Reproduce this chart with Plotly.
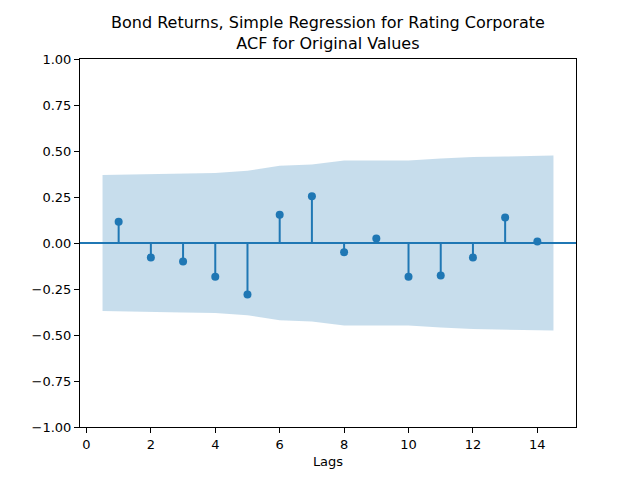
import plotly.graph_objects as go

lags = [1, 2, 3, 4, 5, 6, 7, 8, 9, 10, 11, 12, 13, 14]
acf_vals = [0.116, -0.079, -0.101, -0.183, -0.280, 0.154, 0.254,
            -0.050, 0.024, -0.183, -0.177, -0.079, 0.138, 0.008]
band_x = [0.5, 2, 3, 4, 5, 6, 7, 8, 9, 10, 11, 12, 13, 14.5]
band_upper = [0.370, 0.375, 0.378, 0.381, 0.393, 0.420, 0.427,
              0.448, 0.448, 0.449, 0.459, 0.468, 0.470, 0.475]
x_ticks = [0, 2, 4, 6, 8, 10, 12, 14]
y_ticks = [-1.0, -0.75, -0.5, -0.25, 0.0, 0.25, 0.5, 0.75, 1.0]

C0 = "#1f77b4"
FONT = "DejaVu Sans"

fig = go.Figure()

# confidence band (symmetric)
fig.add_trace(go.Scatter(
    x=band_x + band_x[::-1],
    y=band_upper + [-v for v in band_upper[::-1]],
    fill="toself", fillcolor="rgba(31,119,180,0.25)",
    line=dict(width=0), mode="lines", hoverinfo="skip", showlegend=False))

# stems
sx, sy = [], []
for l, v in zip(lags, acf_vals):
    sx += [l, l, None]
    sy += [0, v, None]
fig.add_trace(go.Scatter(x=sx, y=sy, mode="lines",
                         line=dict(color=C0, width=2), showlegend=False))

# zero line
fig.add_shape(type="line", xref="paper", x0=0, x1=1, yref="y", y0=0, y1=0,
              line=dict(color=C0, width=2))

# markers
fig.add_trace(go.Scatter(x=lags, y=acf_vals, mode="markers",
                         marker=dict(color=C0, size=8, line=dict(width=0)),
                         showlegend=False))

fig.add_annotation(
    text="Bond Returns, Simple Regression for Rating Corporate<br>ACF for Original Values",
    xref="paper", yref="paper", x=0.5, y=1, xanchor="center", yanchor="bottom",
    yshift=4, showarrow=False, font=dict(family=FONT, size=16, color="black"))

axis_common = dict(showgrid=False, zeroline=False, showline=True, linecolor="black",
                   linewidth=1, mirror=True, ticks="outside", ticklen=5,
                   tickcolor="black", tickwidth=1,
                   tickfont=dict(family=FONT, size=13, color="black"))

fig.update_xaxes(range=[-0.2, 15.2], tickvals=x_ticks,
                 title=dict(text="Lags", font=dict(family=FONT, size=13, color="black"), standoff=6),
                 **axis_common)
fig.update_yaxes(range=[-1.0, 1.0], tickvals=y_ticks, tickformat=".2f", **axis_common)

fig.update_layout(width=632, height=472, plot_bgcolor="white", paper_bgcolor="white",
                  margin=dict(l=72, r=64, t=51, b=53, autoexpand=False),
                  showlegend=False)

fig.write_html("out.html")
